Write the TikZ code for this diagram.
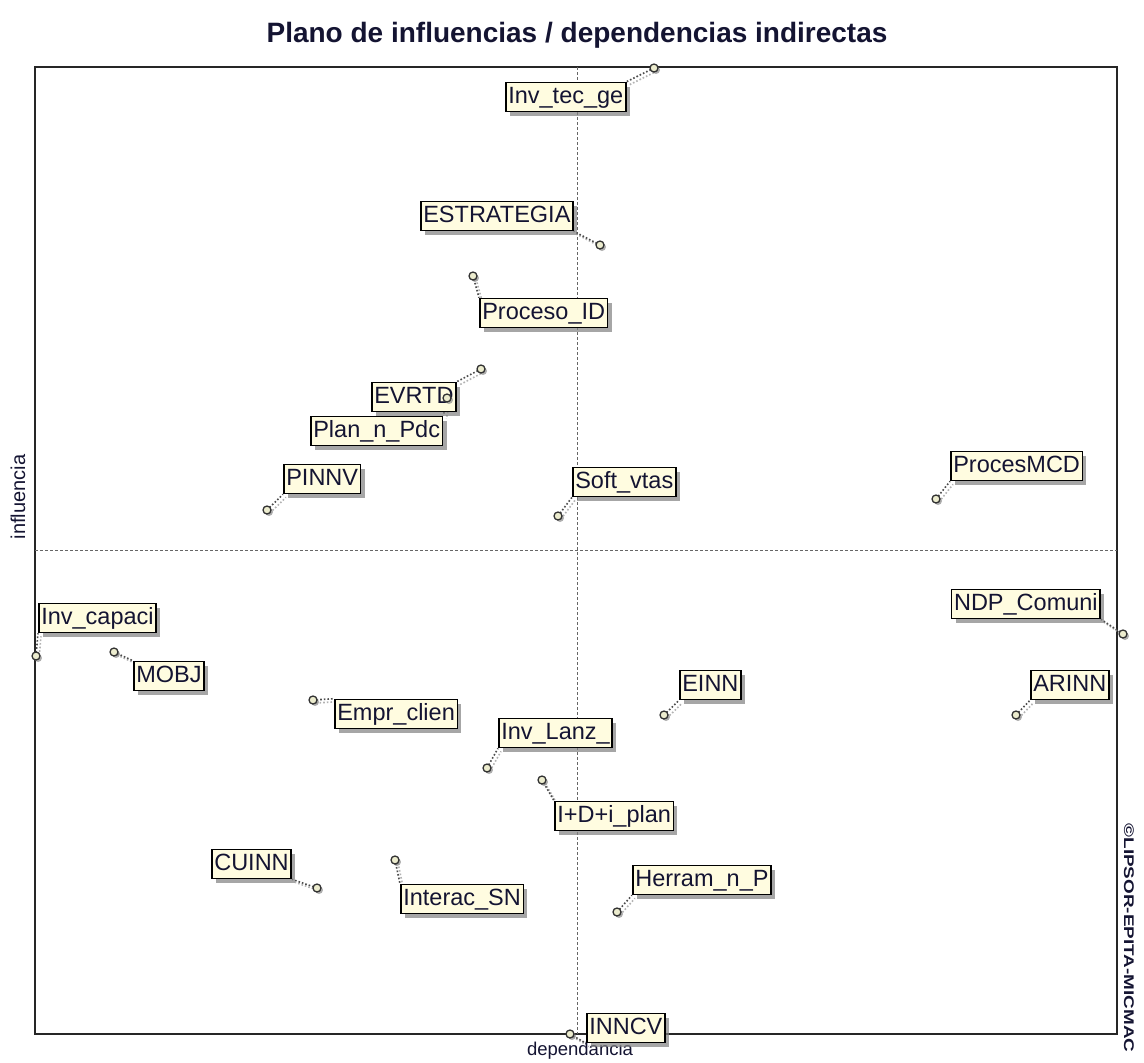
\documentclass[tikz,border=0pt]{standalone}
\usepackage{fontspec}
\setmainfont{Liberation Sans}
\usetikzlibrary{shadows}
\definecolor{boxfill}{RGB}{255,252,224}
\definecolor{ptfill}{RGB}{236,236,206}
\definecolor{inkdark}{RGB}{20,20,50}
\pgfdeclarelayer{frame}
\pgfdeclarelayer{leaders}
\pgfsetlayers{frame,leaders,main}
\tikzset{
  lbl/.style={draw=black, line width=1.6pt, fill=boxfill, inner xsep=2.5pt, inner ysep=0pt,
    minimum height=29pt, text height=17pt, text depth=4pt,
    font=\fontsize{23.5}{23.5}\selectfont, text=inkdark,
    drop shadow={shadow xshift=4pt, shadow yshift=-4pt, fill=black!50, opacity=0.7}},
  pnt/.style={circle, draw=black!80, line width=1.3pt, fill=ptfill, minimum size=8pt, inner sep=0pt,
    drop shadow={shadow xshift=2pt, shadow yshift=-2pt, fill=black!45, opacity=0.7}},
  lead/.style={draw=black!70, line width=1.6pt, dotted},
  leadshade/.style={draw=black!30, line width=1.6pt, dotted},
  axisline/.style={draw=black!60, line width=0.8pt, dash pattern=on 3pt off 2pt},
}
\newcommand{\leader}[2]{%
  \draw[leadshade] ([shift={(3,3)}]#1.center) -- ([shift={(3,3)}]#2);
  \draw[lead] (#1.center) -- (#2);}
\begin{document}
\begin{tikzpicture}[x=1pt,y=-1pt]
\useasboundingbox (0,0) rectangle (1144,1063);

% title and axis names
\node[font=\bfseries\fontsize{28}{28}\selectfont, text=inkdark] (title) at (577,35) {Plano de influencias / dependencias indirectas};
\node[font=\fontsize{20}{20}\selectfont, rotate=90, text=inkdark] (yname) at (18,497) {influencia};
\node[font=\fontsize{18.5}{18.5}\selectfont, text=inkdark] (xname) at (580,1051) {dependancia};
\node[font=\bfseries\fontsize{14}{14}\selectfont, rotate=-90, xscale=1.35, text=inkdark] (copy) at (1129,938) {©LIPSOR-EPITA-MICMAC};

\begin{pgfonlayer}{frame}
  \draw[black!85, line width=1.6pt] (35,67) rectangle (1117,1034);
  \draw[axisline] (577,67) -- (577,1034);
  \draw[axisline] (35,550) -- (1117,550);
\end{pgfonlayer}

% variable labels
\node[lbl, anchor=west] (l1)  at (505,97)  {Inv\_tec\_ge};
\node[lbl, anchor=west] (l2)  at (420,216) {ESTRATEGIA};
\node[lbl, anchor=west] (l3)  at (479,313) {Proceso\_ID};
\node[lbl, anchor=west] (l5)  at (310,431) {Plan\_n\_Pdc};
\node[lbl, anchor=west] (l4)  at (371,397) {EVRTD};
\node[lbl, anchor=west] (l6)  at (283,479) {PINNV};
\node[lbl, anchor=west] (l7)  at (572,482) {Soft\_vtas};
\node[lbl, anchor=west] (l8)  at (950,466) {ProcesMCD};
\node[lbl, anchor=east] (l9)  at (1101,604) {NDP\_Comuni};
\node[lbl, anchor=west] (l10) at (38,618)  {Inv\_capaci};
\node[lbl, anchor=west] (l11) at (133,676) {MOBJ};
\node[lbl, anchor=west] (l12) at (334,714) {Empr\_clien};
\node[lbl, anchor=west] (l13) at (679,685) {EINN};
\node[lbl, anchor=west] (l14) at (1030,685) {ARINN};
\node[lbl, anchor=west] (l15) at (498,733) {Inv\_Lanz\_};
\node[lbl, anchor=west] (l16) at (554,816) {I+D+i\_plan};
\node[lbl, anchor=east] (l17) at (292,864) {CUINN};
\node[lbl, anchor=west] (l18) at (400,899) {Interac\_SN};
\node[lbl, anchor=west] (l19) at (632,880) {Herram\_n\_P};
\node[lbl, anchor=west] (l20) at (586,1028) {INNCV};

% variable positions
\node[pnt] (p1)  at (654,68)   {};
\node[pnt] (p2)  at (600,245)  {};
\node[pnt] (p3)  at (473,276)  {};
\node[pnt] (p4)  at (481,369)  {};
\node[pnt] (p5)  at (447,398)  {};
\node[pnt] (p6)  at (267,510)  {};
\node[pnt] (p7)  at (558,516)  {};
\node[pnt] (p8)  at (936,499)  {};
\node[pnt] (p9)  at (1123,634) {};
\node[pnt] (p10) at (36,656)   {};
\node[pnt] (p11) at (114,652)  {};
\node[pnt] (p12) at (313,700)  {};
\node[pnt] (p13) at (664,715)  {};
\node[pnt] (p14) at (1016,715) {};
\node[pnt] (p15) at (487,768)  {};
\node[pnt] (p16) at (542,780)  {};
\node[pnt] (p17) at (317,888)  {};
\node[pnt] (p18) at (395,860)  {};
\node[pnt] (p19) at (617,912)  {};
\node[pnt] (p20) at (570,1034) {};

% leaders from each position to its label
\begin{pgfonlayer}{leaders}
  \leader{p1}{l1.north east}
  \leader{p2}{l2.south east}
  \leader{p3}{l3.north west}
  \leader{p4}{l4.north east}
  \leader{p5}{l5.north east}
  \leader{p6}{l6.south west}
  \leader{p7}{l7.south west}
  \leader{p8}{l8.south west}
  \leader{p9}{l9.south east}
  \leader{p10}{l10.south west}
  \leader{p11}{l11.north west}
  \leader{p12}{l12.north west}
  \leader{p13}{l13.south west}
  \leader{p14}{l14.south west}
  \leader{p15}{l15.south west}
  \leader{p16}{l16.north west}
  \leader{p17}{l17.south east}
  \leader{p18}{l18.north west}
  \leader{p19}{l19.south west}
  \leader{p20}{l20.south west}
\end{pgfonlayer}
\end{tikzpicture}
\end{document}
